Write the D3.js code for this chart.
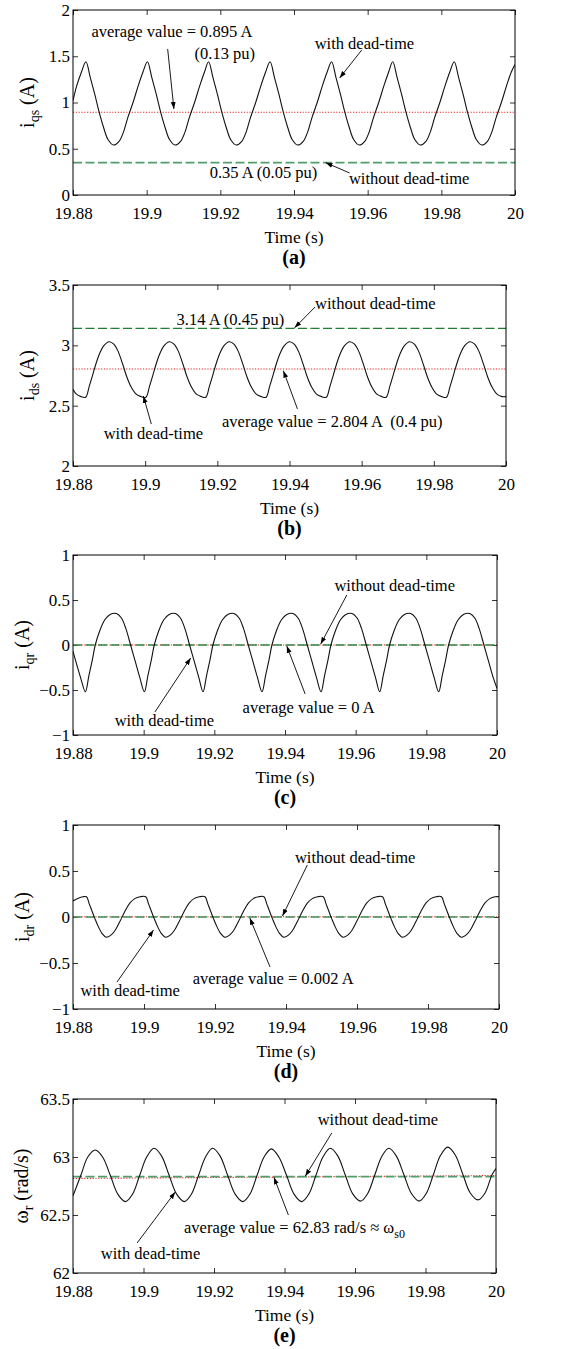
<!DOCTYPE html>
<html>
<head>
<meta charset="utf-8">
<script src="https://cdn.jsdelivr.net/npm/d3@7"></script>
<style>
body { margin: 0; background: #fff; }
svg text { font-family: "Liberation Serif", "Times New Roman", serif; fill: #000; }
</style>
</head>
<body>
<script>
// ---- data ----

var timeTicks = [19.88, 19.9, 19.92, 19.94, 19.96, 19.98, 20];

// (a) stator q current
var iqsTicks = [0, 0.5, 1, 1.5, 2];
var iqsAvg = [0.895, 0.895];
var iqsNoDead = [0.35, 0.35];
var iqsWave = [
  [19.8800,1.02],[19.8810,1.18],[19.8823,1.33],
  [19.8835,1.44],[19.8847,1.27],[19.8859,1.09],[19.8871,0.895],[19.8883,0.73],[19.8895,0.60],[19.8910,0.54],[19.8925,0.58],[19.8937,0.68],[19.8949,0.84],[19.8963,1.00],[19.8977,1.18],[19.8990,1.33],
  [19.9002,1.44],[19.9014,1.27],[19.9026,1.09],[19.9038,0.895],[19.9050,0.73],[19.9062,0.60],[19.9077,0.54],[19.9092,0.58],[19.9104,0.68],[19.9116,0.84],[19.9130,1.00],[19.9144,1.18],[19.9157,1.33],
  [19.9168,1.44],[19.9180,1.27],[19.9192,1.09],[19.9204,0.895],[19.9216,0.73],[19.9228,0.60],[19.9243,0.54],[19.9258,0.58],[19.9270,0.68],[19.9282,0.84],[19.9296,1.00],[19.9310,1.18],[19.9323,1.33],
  [19.9335,1.44],[19.9347,1.27],[19.9359,1.09],[19.9371,0.895],[19.9383,0.73],[19.9395,0.60],[19.9410,0.54],[19.9425,0.58],[19.9437,0.68],[19.9449,0.84],[19.9463,1.00],[19.9477,1.18],[19.9490,1.33],
  [19.9502,1.44],[19.9514,1.27],[19.9526,1.09],[19.9538,0.895],[19.9550,0.73],[19.9562,0.60],[19.9577,0.54],[19.9592,0.58],[19.9604,0.68],[19.9616,0.84],[19.9630,1.00],[19.9644,1.18],[19.9657,1.33],
  [19.9668,1.44],[19.9680,1.27],[19.9692,1.09],[19.9704,0.895],[19.9716,0.73],[19.9728,0.60],[19.9743,0.54],[19.9758,0.58],[19.9770,0.68],[19.9782,0.84],[19.9796,1.00],[19.9810,1.18],[19.9823,1.33],
  [19.9835,1.44],[19.9847,1.27],[19.9859,1.09],[19.9871,0.895],[19.9883,0.73],[19.9895,0.60],[19.9910,0.54],[19.9925,0.58],[19.9937,0.68],[19.9949,0.84],[19.9963,1.00],[19.9977,1.18],[19.9990,1.33],[20.0000,1.41]
];

// (b) stator d current
var idsTicks = [2, 2.5, 3, 3.5];
var idsAvg = [2.804, 2.804];
var idsNoDead = [3.14, 3.14];
var idsWave = [
  [19.8800,2.635],[19.8808,2.60],[19.8822,2.575],
  [19.8835,2.57],[19.8845,2.66],[19.8855,2.76],[19.8865,2.86],[19.8875,2.94],[19.8885,2.995],[19.8900,3.03],[19.8913,3.01],[19.8925,2.95],[19.8937,2.85],[19.8949,2.74],[19.8962,2.65],[19.8975,2.595],[19.8989,2.575],
  [19.9002,2.57],[19.9012,2.66],[19.9022,2.76],[19.9032,2.86],[19.9042,2.94],[19.9052,2.995],[19.9067,3.03],[19.9080,3.01],[19.9092,2.95],[19.9104,2.85],[19.9116,2.74],[19.9129,2.65],[19.9142,2.595],[19.9156,2.575],
  [19.9168,2.57],[19.9178,2.66],[19.9188,2.76],[19.9198,2.86],[19.9208,2.94],[19.9218,2.995],[19.9233,3.03],[19.9246,3.01],[19.9258,2.95],[19.9270,2.85],[19.9282,2.74],[19.9295,2.65],[19.9308,2.595],[19.9322,2.575],
  [19.9335,2.57],[19.9345,2.66],[19.9355,2.76],[19.9365,2.86],[19.9375,2.94],[19.9385,2.995],[19.9400,3.03],[19.9413,3.01],[19.9425,2.95],[19.9437,2.85],[19.9449,2.74],[19.9462,2.65],[19.9475,2.595],[19.9489,2.575],
  [19.9502,2.57],[19.9512,2.66],[19.9522,2.76],[19.9532,2.86],[19.9542,2.94],[19.9552,2.995],[19.9567,3.03],[19.9580,3.01],[19.9592,2.95],[19.9604,2.85],[19.9616,2.74],[19.9629,2.65],[19.9642,2.595],[19.9656,2.575],
  [19.9668,2.57],[19.9678,2.66],[19.9688,2.76],[19.9698,2.86],[19.9708,2.94],[19.9718,2.995],[19.9733,3.03],[19.9746,3.01],[19.9758,2.95],[19.9770,2.85],[19.9782,2.74],[19.9795,2.65],[19.9808,2.595],[19.9822,2.575],
  [19.9835,2.57],[19.9845,2.66],[19.9855,2.76],[19.9865,2.86],[19.9875,2.94],[19.9885,2.995],[19.9900,3.03],[19.9913,3.01],[19.9925,2.95],[19.9937,2.85],[19.9949,2.74],[19.9962,2.65],[19.9975,2.595],[19.9989,2.575],[20.0000,2.575]
];

// (c) rotor q current
var iqrTicks = [-1, -0.5, 0, 0.5, 1];
var iqrAvg = [0, 0];
var iqrNoDead = [0, 0];
var iqrWave = [
  [19.8800,-0.07],[19.8810,-0.21],[19.8822,-0.37],
  [19.8835,-0.52],[19.8845,-0.34],[19.8855,-0.16],[19.8863,0.0],[19.8875,0.15],[19.8890,0.28],[19.8905,0.34],[19.8923,0.35],[19.8937,0.30],[19.8949,0.19],[19.8963,0.0],[19.8976,-0.18],[19.8989,-0.36],
  [19.9002,-0.52],[19.9012,-0.34],[19.9022,-0.16],[19.9030,0.0],[19.9042,0.15],[19.9057,0.28],[19.9072,0.34],[19.9090,0.35],[19.9104,0.30],[19.9116,0.19],[19.9130,0.0],[19.9143,-0.18],[19.9156,-0.36],
  [19.9168,-0.52],[19.9178,-0.34],[19.9188,-0.16],[19.9196,0.0],[19.9208,0.15],[19.9223,0.28],[19.9238,0.34],[19.9256,0.35],[19.9270,0.30],[19.9282,0.19],[19.9296,0.0],[19.9309,-0.18],[19.9322,-0.36],
  [19.9335,-0.52],[19.9345,-0.34],[19.9355,-0.16],[19.9363,0.0],[19.9375,0.15],[19.9390,0.28],[19.9405,0.34],[19.9423,0.35],[19.9437,0.30],[19.9449,0.19],[19.9463,0.0],[19.9476,-0.18],[19.9489,-0.36],
  [19.9502,-0.52],[19.9512,-0.34],[19.9522,-0.16],[19.9530,0.0],[19.9542,0.15],[19.9557,0.28],[19.9572,0.34],[19.9590,0.35],[19.9604,0.30],[19.9616,0.19],[19.9630,0.0],[19.9643,-0.18],[19.9656,-0.36],
  [19.9668,-0.52],[19.9678,-0.34],[19.9688,-0.16],[19.9696,0.0],[19.9708,0.15],[19.9723,0.28],[19.9738,0.34],[19.9756,0.35],[19.9770,0.30],[19.9782,0.19],[19.9796,0.0],[19.9809,-0.18],[19.9822,-0.36],
  [19.9835,-0.52],[19.9845,-0.34],[19.9855,-0.16],[19.9863,0.0],[19.9875,0.15],[19.9890,0.28],[19.9905,0.34],[19.9923,0.35],[19.9937,0.30],[19.9949,0.19],[19.9963,0.0],[19.9976,-0.18],[19.9989,-0.36],[20.0000,-0.48]
];

// (d) rotor d current
var idrTicks = [-1, -0.5, 0, 0.5, 1];
var idrAvg = [0.002, 0.002];
var idrNoDead = [0, 0];
var idrWave = [
  [19.8800,0.175],[19.8815,0.205],[19.8828,0.22],
  [19.8838,0.22],[19.8846,0.14],[19.8854,0.06],[19.8862,-0.02],[19.8872,-0.11],[19.8882,-0.18],[19.8894,-0.22],[19.8906,-0.20],[19.8918,-0.15],[19.8932,-0.05],[19.8946,0.06],[19.8960,0.15],[19.8974,0.20],[19.8989,0.22],
  [19.9005,0.22],[19.9013,0.14],[19.9021,0.06],[19.9029,-0.02],[19.9039,-0.11],[19.9049,-0.18],[19.9061,-0.22],[19.9073,-0.20],[19.9085,-0.15],[19.9099,-0.05],[19.9113,0.06],[19.9127,0.15],[19.9141,0.20],[19.9156,0.22],
  [19.9172,0.22],[19.9180,0.14],[19.9188,0.06],[19.9196,-0.02],[19.9206,-0.11],[19.9216,-0.18],[19.9228,-0.22],[19.9240,-0.20],[19.9252,-0.15],[19.9266,-0.05],[19.9280,0.06],[19.9294,0.15],[19.9308,0.20],[19.9323,0.22],
  [19.9338,0.22],[19.9346,0.14],[19.9354,0.06],[19.9362,-0.02],[19.9372,-0.11],[19.9382,-0.18],[19.9394,-0.22],[19.9406,-0.20],[19.9418,-0.15],[19.9432,-0.05],[19.9446,0.06],[19.9460,0.15],[19.9474,0.20],[19.9489,0.22],
  [19.9505,0.22],[19.9513,0.14],[19.9521,0.06],[19.9529,-0.02],[19.9539,-0.11],[19.9549,-0.18],[19.9561,-0.22],[19.9573,-0.20],[19.9585,-0.15],[19.9599,-0.05],[19.9613,0.06],[19.9627,0.15],[19.9641,0.20],[19.9656,0.22],
  [19.9672,0.22],[19.9680,0.14],[19.9688,0.06],[19.9696,-0.02],[19.9706,-0.11],[19.9716,-0.18],[19.9728,-0.22],[19.9740,-0.20],[19.9752,-0.15],[19.9766,-0.05],[19.9780,0.06],[19.9794,0.15],[19.9808,0.20],[19.9823,0.22],
  [19.9838,0.22],[19.9846,0.14],[19.9854,0.06],[19.9862,-0.02],[19.9872,-0.11],[19.9882,-0.18],[19.9894,-0.22],[19.9906,-0.20],[19.9918,-0.15],[19.9932,-0.05],[19.9946,0.06],[19.9960,0.15],[19.9974,0.20],[19.9989,0.22],[20.0000,0.22]
];

// (e) rotor speed
var wrTicks = [62, 62.5, 63, 63.5];
var wrAvg = [62.815, 62.84];
var wrNoDead = [62.83, 62.83];
var wrWave = [
  [19.8800,62.665],[19.8822,62.84],[19.8842,63.00],
  [19.8863,63.06],[19.8884,63.00],[19.8906,62.84],[19.8927,62.68],[19.8949,62.615],[19.8969,62.68],[19.8989,62.84],[19.9009,63.00],
  [19.9030,63.075],[19.9051,63.01],[19.9073,62.84],[19.9094,62.68],[19.9116,62.615],[19.9136,62.68],[19.9156,62.84],[19.9176,63.00],
  [19.9196,63.075],[19.9217,63.01],[19.9239,62.84],[19.9260,62.68],[19.9282,62.615],[19.9302,62.68],[19.9322,62.84],[19.9342,63.00],
  [19.9363,63.07],[19.9384,63.00],[19.9406,62.84],[19.9427,62.68],[19.9449,62.615],[19.9469,62.68],[19.9489,62.84],[19.9509,63.00],
  [19.9530,63.075],[19.9551,63.01],[19.9573,62.84],[19.9594,62.68],[19.9616,62.62],[19.9636,62.685],[19.9656,62.845],[19.9676,63.005],
  [19.9696,63.075],[19.9717,63.01],[19.9739,62.845],[19.9760,62.685],[19.9782,62.62],[19.9802,62.685],[19.9822,62.845],[19.9842,63.01],
  [19.9863,63.085],[19.9884,63.02],[19.9906,62.85],[19.9927,62.69],[19.9949,62.63],[19.9969,62.69],[19.9989,62.85],[20.0000,62.90]
];

// ---- layout ----

var W = 563, H = 1349, left = 73;

var panels = [
  {tag: "(a)", top: 10, bottom: 195, right: 515, domain: [0, 2], ticks: iqsTicks, wave: iqsWave,
   avg: iqsAvg, noDead: iqsNoDead, green: "#4f9e6c", greenW: 1.8, ylab: ["i", "qs", " (A)"], ylx: 34,
   notes: [["average value = 0.895 A", 19.8850, 1.773], ["(0.13 pu)", 19.9130, 1.535], ["with dead-time", 19.9456, 1.643],
           ["0.35 A (0.05 pu)", 19.9171, 0.249], ["without dead-time", 19.9549, 0.184]],
   arrows: [[19.9057, 1.578, 19.9074, 0.93], [19.9584, 1.568, 19.9524, 1.265], [19.9551, 0.238, 19.9486, 0.35]]},
  {tag: "(b)", top: 285, bottom: 466, right: 506, domain: [2, 3.5], ticks: idsTicks, wave: idsWave,
   avg: idsAvg, noDead: idsNoDead, green: "#1f7d30", greenW: 1.3, ylab: ["i", "ds", " (A)"], ylx: 34,
   notes: [["without dead-time", 19.9471, 3.351], ["3.14 A (0.45 pu)", 19.9087, 3.218], ["with dead-time", 19.8885, 2.274],
           ["average value = 2.804 A  (0.4 pu)", 19.9213, 2.373]],
   arrows: [[19.9471, 3.318, 19.9414, 3.145], [19.9017, 2.348, 19.8995, 2.58], [19.9422, 2.473, 19.9383, 2.79]]},
  {tag: "(c)", top: 555, bottom: 735, right: 497, domain: [-1, 1], ticks: iqrTicks, wave: iqrWave,
   avg: iqrAvg, noDead: iqrNoDead, green: "#2f8a45", greenW: 1.4, ylab: ["i", "qr", " (A)"], ylx: 29,
   notes: [["without dead-time", 19.9540, 0.667], ["with dead-time", 19.8918, -0.833], ["average value = 0 A", 19.9280, -0.689]],
   arrows: [[19.9575, 0.556, 19.9501, 0.01], [19.9032, -0.744, 19.9133, -0.144], [19.9457, -0.544, 19.9405, -0.01]]},
  {tag: "(d)", top: 825, bottom: 1009, right: 499, domain: [-1, 1], ticks: idrTicks, wave: idrWave,
   avg: idrAvg, noDead: idrNoDead, green: "#3f9259", greenW: 1.6, ylab: ["i", "dr", " (A)"], ylx: 29,
   notes: [["without dead-time", 19.9425, 0.652], ["with dead-time", 19.8821, -0.793], ["average value = 0.002 A", 19.9137, -0.663]],
   arrows: [[19.9460, 0.565, 19.9390, 0.01], [19.8924, -0.707, 19.9027, -0.141], [19.9355, -0.543, 19.9298, -0.01]]},
  {tag: "(e)", top: 1099, bottom: 1273, right: 496, domain: [62, 63.5], ticks: wrTicks, wave: wrWave,
   avg: wrAvg, noDead: wrNoDead, green: "#4f9e6c", greenW: 1.8, ylab: ["\u03c9", "r", " (rad/s)"], ylx: 28,
   notes: [["without dead-time", 19.9494, 63.328], ["average value = 62.83 rad/s \u2248 \u03c9", 19.9115, 62.397, "s0"],
           ["with dead-time", 19.8879, 62.172]],
   arrows: [[19.9534, 63.207, 19.9459, 62.835], [19.9411, 62.5, 19.9370, 62.825], [19.8982, 62.259, 19.9090, 62.698]]}
];

var svg = d3.select("body").append("svg")
    .attr("width", W)
    .attr("height", H);

svg.append("rect").attr("width", W).attr("height", H).attr("fill", "#fff");

svg.append("defs").append("marker")
    .attr("id", "head")
    .attr("viewBox", "0 0 10 10")
    .attr("refX", 10).attr("refY", 5)
    .attr("markerWidth", 7).attr("markerHeight", 7)
    .attr("markerUnits", "userSpaceOnUse")
    .attr("orient", "auto")
  .append("path")
    .attr("d", "M0,1.5L10,5L0,8.5Z")
    .attr("fill", "#000");

var fmt = function(d) { return String(+d.toFixed(2)).replace("-", "\u2212"); };

panels.forEach(function(p, i) {
  var x = d3.scaleLinear().domain([19.88, 20]).range([left, p.right]);
  var y = d3.scaleLinear().domain(p.domain).range([p.bottom, p.top]);
  var g = svg.append("g").attr("class", "panel");

  g.append("clipPath").attr("id", "clip" + i)
    .append("rect")
      .attr("x", left).attr("y", p.top)
      .attr("width", p.right - left).attr("height", p.bottom - p.top);

  // axes, ticks pointing inside on all four sides
  g.append("g")
    .attr("transform", "translate(0," + p.bottom + ")")
    .call(d3.axisBottom(x).tickValues(timeTicks).tickSize(-5).tickPadding(12).tickFormat(fmt));
  g.append("g")
    .attr("transform", "translate(0," + p.top + ")")
    .call(d3.axisTop(x).tickValues(timeTicks).tickSize(-5).tickFormat(""));
  g.append("g")
    .attr("transform", "translate(" + left + ",0)")
    .call(d3.axisLeft(y).tickValues(p.ticks).tickSize(-5).tickPadding(3).tickFormat(fmt));
  g.append("g")
    .attr("transform", "translate(" + p.right + ",0)")
    .call(d3.axisRight(y).tickValues(p.ticks).tickSize(-5).tickFormat(""));

  g.selectAll(".domain").remove();
  g.selectAll(".tick line").attr("stroke", "#000").attr("stroke-width", 0.8);
  g.selectAll(".tick text")
    .attr("fill", "#000")
    .style("font-family", "'Liberation Serif', serif")
    .style("font-size", "17px");

  var plot = g.append("g").attr("clip-path", "url(#clip" + i + ")");

  // average value (red dotted), then no dead-time value (green dashed)
  plot.append("line")
    .attr("x1", x(19.88)).attr("x2", x(20))
    .attr("y1", y(p.avg[0])).attr("y2", y(p.avg[1]))
    .attr("stroke", "#e3261f").attr("stroke-width", 1.1)
    .attr("stroke-dasharray", "1.2,1.6");
  plot.append("line")
    .attr("x1", x(19.88)).attr("x2", x(20))
    .attr("y1", y(p.noDead[0])).attr("y2", y(p.noDead[1]))
    .attr("stroke", p.green).attr("stroke-width", p.greenW)
    .attr("stroke-dasharray", "9,3.5");

  var line = d3.line()
    .x(function(d) { return x(d[0]); })
    .y(function(d) { return y(d[1]); })
    .curve(d3.curveCatmullRom.alpha(0.5));

  plot.append("path")
    .datum(p.wave)
    .attr("d", line)
    .attr("fill", "none")
    .attr("stroke", "#111")
    .attr("stroke-width", 1.1);

  g.append("rect")
    .attr("x", left).attr("y", p.top)
    .attr("width", p.right - left).attr("height", p.bottom - p.top)
    .attr("fill", "none").attr("stroke", "#000").attr("stroke-width", 1);

  // annotations
  p.arrows.forEach(function(a) {
    g.append("line")
      .attr("x1", x(a[0])).attr("y1", y(a[1]))
      .attr("x2", x(a[2])).attr("y2", y(a[3]))
      .attr("stroke", "#000").attr("stroke-width", 0.9)
      .attr("marker-end", "url(#head)");
  });

  p.notes.forEach(function(n) {
    var t = g.append("text")
      .attr("x", x(n[1])).attr("y", y(n[2]))
      .attr("dy", "0.35em")
      .style("font-size", "16.5px")
      .style("white-space", "pre")
      .text(n[0]);
    if (n[3]) {
      t.append("tspan").attr("dy", 5).style("font-size", "12px").text(n[3]);
    }
  });

  // y label
  var cy = (p.top + p.bottom) / 2;
  var yl = g.append("text")
    .attr("transform", "translate(" + p.ylx + "," + cy + ") rotate(-90)")
    .attr("text-anchor", "middle")
    .style("font-size", "20px");
  yl.append("tspan").text(p.ylab[0]);
  yl.append("tspan").attr("dy", 5).style("font-size", "14px").text(p.ylab[1]);
  yl.append("tspan").attr("dy", -5).style("white-space", "pre").text(p.ylab[2]);

  // x label and panel tag
  g.append("text")
    .attr("x", (left + p.right) / 2).attr("y", p.bottom + 48)
    .attr("text-anchor", "middle")
    .style("font-size", "17.5px")
    .text("Time (s)");
  g.append("text")
    .attr("x", (left + p.right) / 2).attr("y", p.bottom + 69)
    .attr("text-anchor", "middle")
    .style("font-size", "20px")
    .style("font-weight", "bold")
    .text(p.tag);
});
</script>
</body>
</html>
